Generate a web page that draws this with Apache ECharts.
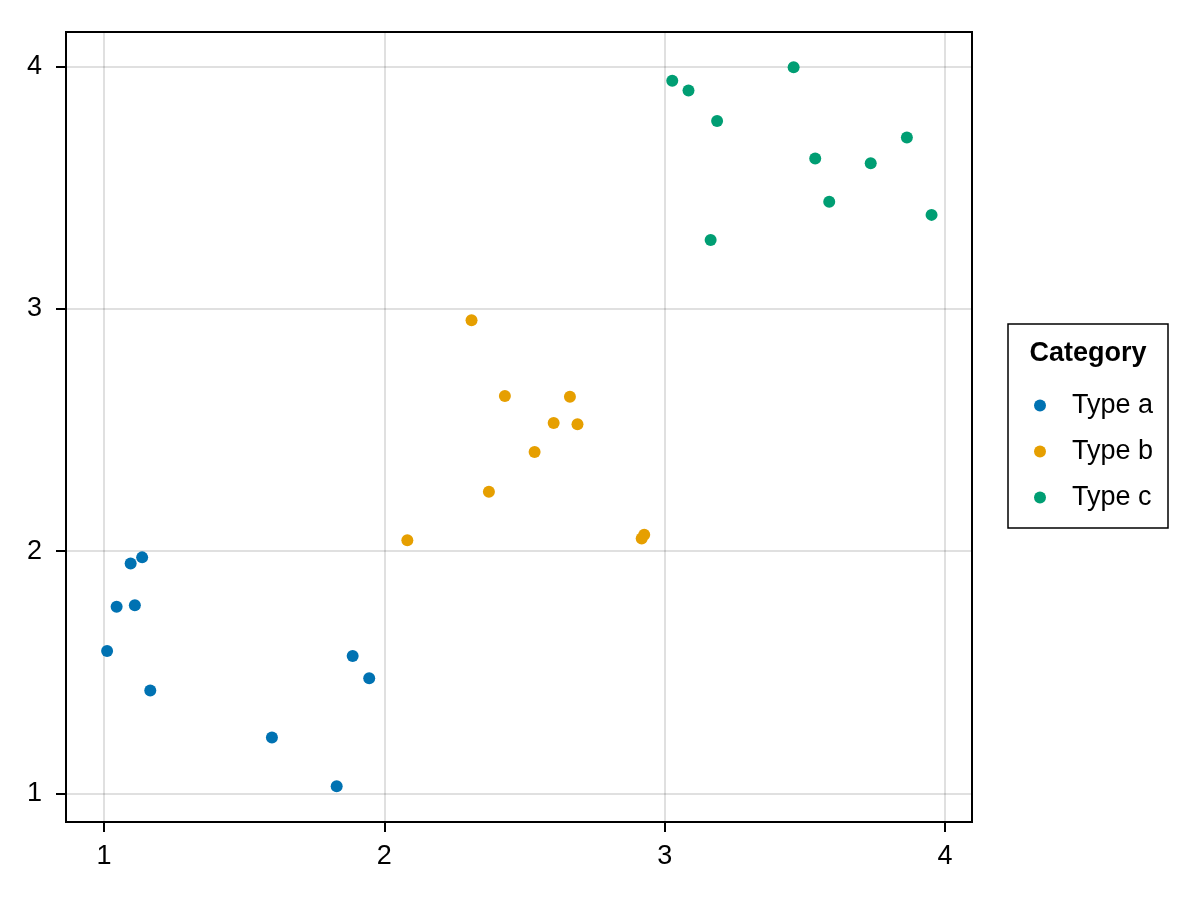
<!DOCTYPE html>
<html>
<head>
<meta charset="utf-8">
<script src="https://cdn.jsdelivr.net/npm/echarts@6/dist/echarts.min.js"></script>
<style>
  html, body { margin: 0; padding: 0; background: #fff; }
  #main { width: 1200px; height: 900px; }
</style>
</head>
<body>
<div id="main"></div>
<script>
// points, [x, y]
const typeA = [
  [1.011, 1.587], [1.045, 1.770], [1.095, 1.949], [1.136, 1.974], [1.110, 1.776],
  [1.165, 1.424], [1.599, 1.230], [1.830, 1.029], [1.887, 1.567], [1.946, 1.475]
];
const typeB = [
  [2.082, 2.045], [2.311, 2.953], [2.373, 2.245], [2.430, 2.640], [2.536, 2.409],
  [2.604, 2.529], [2.662, 2.637], [2.689, 2.524], [2.918, 2.052], [2.927, 2.067]
];
const typeC = [
  [3.027, 3.942], [3.085, 3.901], [3.187, 3.776], [3.164, 3.284], [3.460, 3.997],
  [3.537, 3.621], [3.587, 3.442], [3.735, 3.601], [3.864, 3.707], [3.952, 3.388]
];
const seriesNames = ['Type a', 'Type b', 'Type c'];
const colors = ['#0072B2', '#E69F00', '#009E73'];
const xTicks = [1, 2, 3, 4];
const yTicks = [1, 2, 3, 4];

const font = 'Liberation Sans, Arial, sans-serif';

const axisCommon = (ticks) => ({
  type: 'value',
  axisLine: { show: true, lineStyle: { color: '#000', width: 2 } },
  axisTick: { show: true, length: 10, lineStyle: { color: '#000', width: 2 }, customValues: ticks },
  splitLine: { show: true, lineStyle: { color: 'rgba(0,0,0,0.12)', width: 2 } }
});

const option = {
  animation: false,
  backgroundColor: '#fff',
  color: colors,
  grid: {
    left: 66, right: 228, top: 32, bottom: 78,
    show: true, borderColor: '#000', borderWidth: 2
  },
  xAxis: Object.assign(axisCommon(xTicks), {
    min: 0.8644, max: 4.0963,
    axisLabel: { color: '#000', fontSize: 27, fontFamily: font, margin: 21, customValues: xTicks }
  }),
  yAxis: Object.assign(axisCommon(yTicks), {
    min: 0.8815, max: 4.143,
    axisLabel: { color: '#000', fontSize: 27, fontFamily: font, margin: 24, padding: [7, 0, 0, 0], customValues: yTicks }
  }),
  legend: {
    orient: 'vertical',
    left: 1034, top: 392,
    padding: 0,
    itemWidth: 12, itemHeight: 12, itemGap: 19,
    icon: 'circle',
    textStyle: { color: '#000', fontSize: 27, fontFamily: font, padding: [2, 0, 0, 21] },
    data: seriesNames
  },
  graphic: [
    {
      type: 'rect', z: -1,
      shape: { x: 1008, y: 324, width: 160, height: 204 },
      style: { fill: '#fff', stroke: '#000', lineWidth: 1.5 }
    },
    {
      type: 'text',
      x: 1088, y: 354,
      style: {
        text: 'Category', fill: '#000',
        font: 'bold 27px ' + font,
        align: 'center', verticalAlign: 'middle'
      }
    }
  ],
  series: [typeA, typeB, typeC].map((d, i) => ({
    name: seriesNames[i],
    type: 'scatter',
    symbolSize: 12,
    data: d,
    itemStyle: { color: colors[i], opacity: 1 }
  }))
};

echarts.init(document.getElementById('main')).setOption(option);
</script>
</body>
</html>
